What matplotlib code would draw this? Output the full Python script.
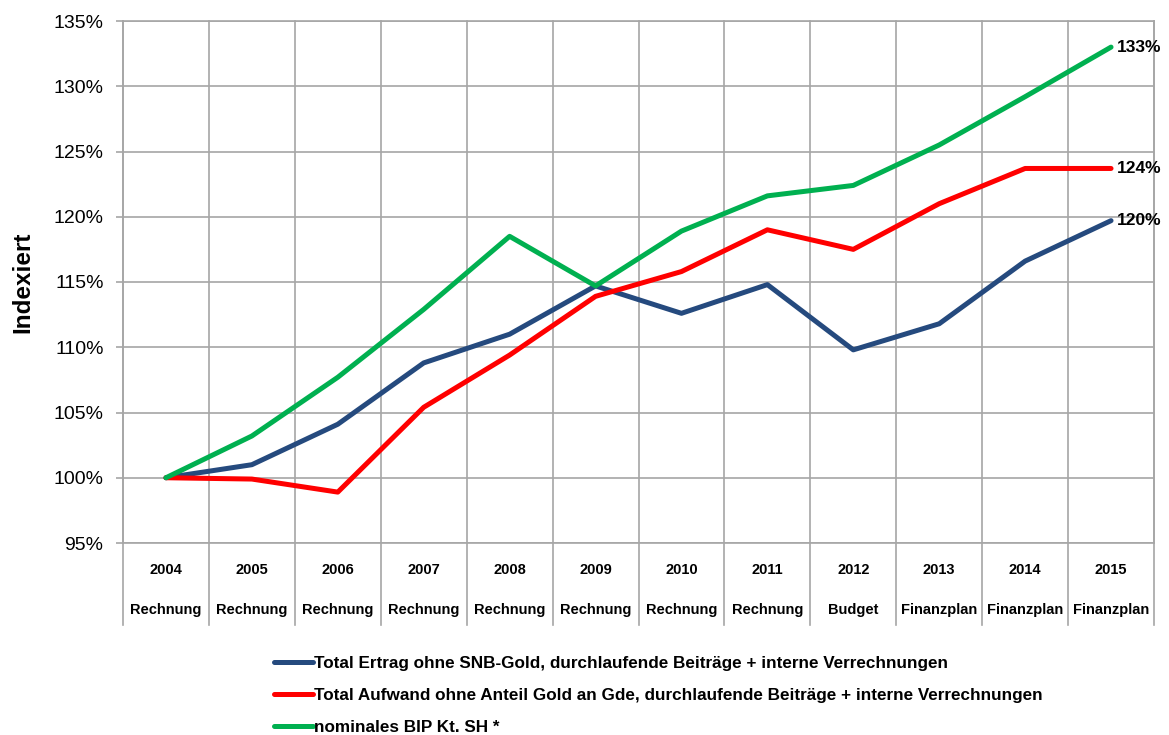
#!/usr/bin/env python3
"""Indexierte Entwicklung Ertrag / Aufwand / BIP Kt. SH, 2004-2015"""
import matplotlib
matplotlib.use('Agg')
import matplotlib.pyplot as plt
import matplotlib.transforms as mtransforms

# Data (Index 2004 = 100%)
years = ['2004', '2005', '2006', '2007', '2008', '2009', '2010', '2011',
         '2012', '2013', '2014', '2015']
kinds = ['Rechnung'] * 8 + ['Budget'] + ['Finanzplan'] * 3

ertrag = [100.0, 101.0, 104.1, 108.8, 111.0, 114.7, 112.6, 114.8,
          109.8, 111.8, 116.6, 119.7]
aufwand = [100.0, 99.9, 98.9, 105.4, 109.4, 113.9, 115.8, 119.0,
           117.5, 121.0, 123.7, 123.7]
bip = [100.0, 103.2, 107.7, 112.9, 118.5, 114.7, 118.9, 121.6,
       122.4, 125.5, 129.2, 133.0]

labels = ['Total Ertrag ohne SNB-Gold, durchlaufende Beiträge + interne Verrechnungen',
          'Total Aufwand ohne Anteil Gold an Gde, durchlaufende Beiträge + interne Verrechnungen',
          'nominales BIP Kt. SH *']
colors = ['#254a7e', '#ff0000', '#00b050']
yticks = [95, 100, 105, 110, 115, 120, 125, 130, 135]

plt.rcParams['font.family'] = ['Liberation Sans', 'DejaVu Sans']

W, H = 1169, 735
fig = plt.figure(figsize=(W / 100, H / 100), dpi=100)
left, right, top, bottom = 123, 1154, 21, 543
ax = fig.add_axes([left / W, 1 - bottom / H, (right - left) / W, (bottom - top) / H])

grid_col = '#a6a6a6'
x = list(range(len(years)))
handles = []
for series, col, lab in zip([ertrag, aufwand, bip], colors, labels):
    h, = ax.plot(x, series, color=col, lw=3.6, solid_capstyle='round',
                 solid_joinstyle='round', label=lab, zorder=3)
    handles.append(h)
    ax.annotate(f'{series[-1]:.0f}%', (x[-1], series[-1]), xytext=(4, 0),
                textcoords='offset points', va='center', ha='left',
                fontsize=12.5, fontweight='bold', color='black',
                annotation_clip=False)

ax.set_xlim(-0.5, len(years) - 0.5)
ax.set_ylim(95, 135)
ax.set_yticks(yticks)
ax.set_yticklabels([f'{v}%' for v in yticks], fontsize=14)
ax.yaxis.grid(True, color=grid_col, lw=1.2)
ax.set_xticks([])
ax.tick_params(axis='y', length=5, color=grid_col, width=1.2, pad=9)
for s in ax.spines.values():
    s.set_color(grid_col)
    s.set_linewidth(1.2)
ax.set_ylabel('Indexiert', fontsize=17.5, fontweight='bold')
ax.yaxis.set_label_coords(-(left - 34) / (right - left), 0.5)

# vertical grid lines running down through the category table
trans = mtransforms.blended_transform_factory(ax.transData, ax.transAxes)
tab_bottom = -(625 - bottom) / (bottom - top)
for i in range(len(years) + 1):
    ax.plot([i - 0.5, i - 0.5], [tab_bottom, 1], color=grid_col, lw=1.2,
            transform=trans, clip_on=False, zorder=1)

y_year = -(570 - bottom) / (bottom - top)
y_kind = -(610 - bottom) / (bottom - top)
for i, (yr, kd) in enumerate(zip(years, kinds)):
    ax.text(i, y_year, yr, transform=trans, ha='center', va='center',
            fontsize=10.5, fontweight='bold')
    ax.text(i, y_kind, kd, transform=trans, ha='center', va='center',
            fontsize=10.5, fontweight='bold')

fig.legend(handles=handles, loc='upper left',
           bbox_to_anchor=(274 / W, 1 - 656 / H), frameon=False,
           prop={'weight': 'bold', 'size': 12.3},
           handlelength=2.3, handletextpad=0.05, labelspacing=1.0,
           borderpad=0, borderaxespad=0)

fig.savefig('out.png', dpi=100)
